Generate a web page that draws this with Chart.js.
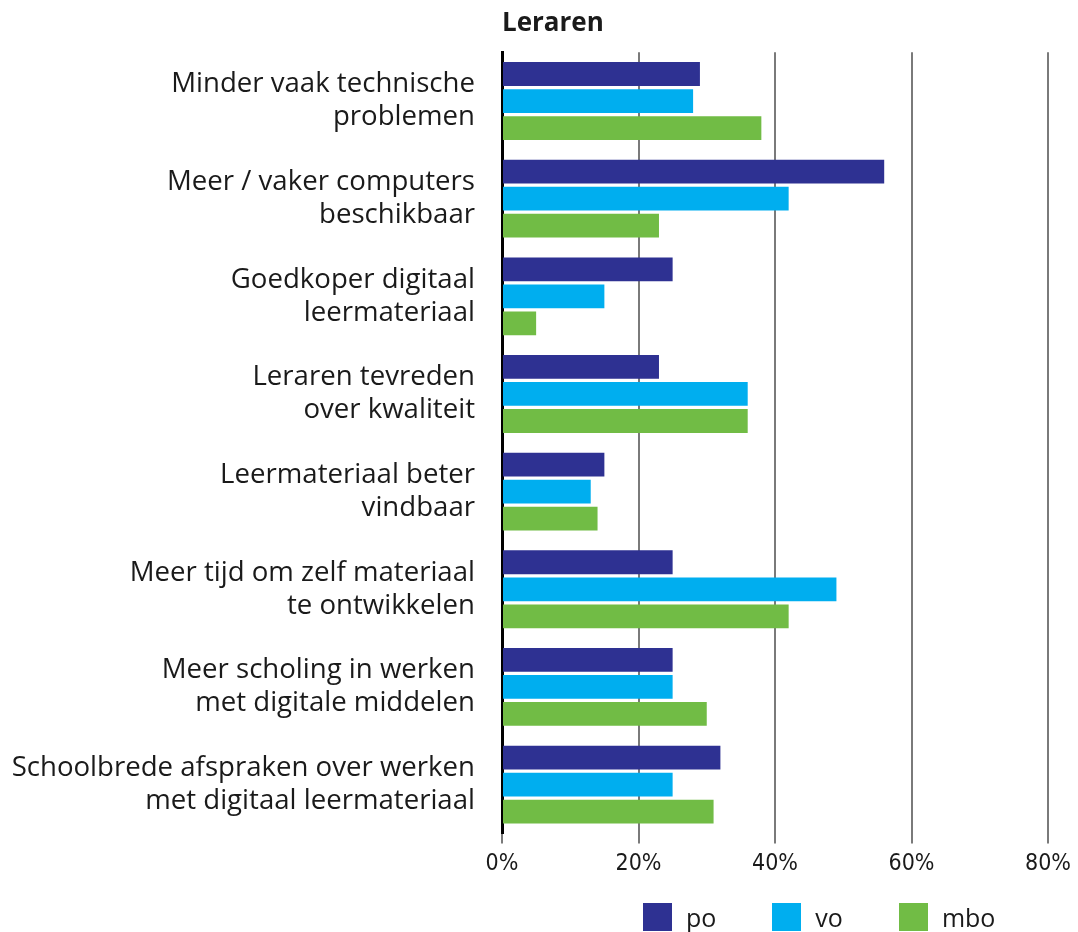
<!DOCTYPE html>
<html>
<head>
<meta charset="utf-8">
<script src="https://cdn.jsdelivr.net/npm/chart.js@4"></script>
<style>
  html, body { margin: 0; padding: 0; background: #fff; }
  #wrap { position: relative; width: 1078px; height: 932px; }
  #legenda { position: absolute; left: 643px; top: 900px; display: flex; align-items: center;
             font-family: 'Open Sans'; font-size: 25px; color: #1a1a1a; }
  #legenda .item { display: flex; align-items: center; margin-right: 56px; }
  #legenda .blok { width: 29px; height: 28px; margin-right: 14px; }
</style>
</head>
<body>
<div id="wrap">
  <canvas id="grafiek" width="1078" height="932"></canvas>
  <div id="legenda"></div>
</div>
<script>
// categorieen (meerdere regels per label)
const categorieen = [
    ['Minder vaak technische', 'problemen'],
    ['Meer / vaker computers', 'beschikbaar'],
    ['Goedkoper digitaal', 'leermateriaal'],
    ['Leraren tevreden', 'over kwaliteit'],
    ['Leermateriaal beter', 'vindbaar'],
    ['Meer tijd om zelf materiaal', 'te ontwikkelen'],
    ['Meer scholing in werken', 'met digitale middelen'],
    ['Schoolbrede afspraken over werken', 'met digitaal leermateriaal']
];
const po  = [29, 56, 25, 23, 15, 25, 25, 32];
const vo  = [28, 42, 15, 36, 13, 49, 25, 25];
const mbo = [38, 23, 5, 36, 14, 42, 30, 31];
const tickWaarden = [0, 20, 40, 60, 80];

let data = {
    labels: categorieen,
    datasets: [
        {label: 'po', data: po, backgroundColor: '#2e3192'},
        {label: 'vo', data: vo, backgroundColor: '#00aeef'},
        {label: 'mbo', data: mbo, backgroundColor: '#71bc45'}
    ]
};

let config = {
    type: 'bar',
    data: data,
    options: {
        indexAxis: 'y',
        responsive: false,
        animation: false,
        categoryPercentage: 0.83,
        barPercentage: 0.88,
        layout: {padding: {top: 0, right: 5, bottom: 47, left: 0}},
        plugins: {
            title: {
                display: true,
                text: 'Leraren',
                align: 'start',
                fullSize: false,
                color: '#1a1a1a',
                font: {family: 'Open Sans', size: 26, weight: 'bold', lineHeight: 1.2},
                padding: {top: 8, bottom: 13}
            },
            legend: {display: false},
            tooltip: {enabled: false}
        },
        scales: {
            x: {
                min: 0,
                max: 80,
                afterBuildTicks: (scale) => {
                    scale.ticks = tickWaarden.map(v => ({value: v}));
                },
                ticks: {
                    color: '#1a1a1a',
                    font: {family: 'DejaVu Sans Condensed', size: 23, lineHeight: 1.2},
                    padding: 7,
                    callback: (v) => v + '%'
                },
                grid: {color: '#7a7a7a', lineWidth: 2, tickLength: 10, tickColor: '#7a7a7a'},
                border: {display: false}
            },
            y: {
                afterFit: (scale) => {
                    scale.width = 502;
                    // labels liggen binnen de categorieen, geen extra ruimte nodig
                    scale.paddingTop = 0;
                    scale.paddingBottom = 0;
                },
                ticks: {
                    color: '#1a1a1a',
                    font: {family: 'Open Sans', size: 27.6, lineHeight: 1.2},
                    padding: 27,
                    crossAlign: 'near'
                },
                grid: {display: false, drawTicks: false},
                border: {display: true, color: '#000', width: 3}
            }
        }
    }
};

let ctx = new Chart(document.getElementById('grafiek'), config);

// legenda onder de grafiek
let legenda = document.getElementById('legenda');
ctx.data.datasets.forEach(ds => {
    let item = document.createElement('div');
    item.className = 'item';
    let blok = document.createElement('span');
    blok.className = 'blok';
    blok.style.background = ds.backgroundColor;
    let tekst = document.createElement('span');
    tekst.textContent = ds.label;
    item.appendChild(blok);
    item.appendChild(tekst);
    legenda.appendChild(item);
});
</script>
</body>
</html>
